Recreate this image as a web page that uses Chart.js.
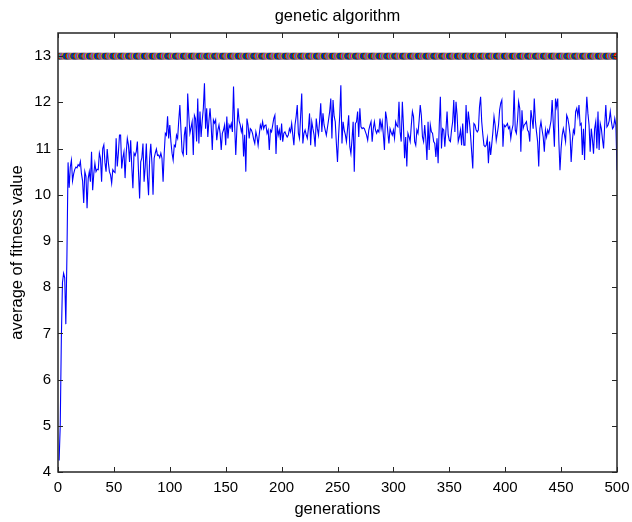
<!DOCTYPE html>
<html>
<head>
<meta charset="utf-8">
<script src="https://cdn.jsdelivr.net/npm/chart.js@4.4.1/dist/chart.umd.min.js"></script>
<style>
  html, body { margin: 0; padding: 0; background: #fff; }
  #wrap { width: 632px; height: 522px; }
</style>
</head>
<body>
<div id="wrap"><canvas id="c" width="632" height="522"></canvas></div>
<script>
// ---- data ----
const chartTitle = 'genetic algorithm';
const xAxisTitle = 'generations';
const yAxisTitle = 'average of fitness value';
const xTickValues = [0, 50, 100, 150, 200, 250, 300, 350, 400, 450, 500];
const yTickValues = [4, 5, 6, 7, 8, 9, 10, 11, 12, 13];
const bestFitness = 13;   // constant best fitness shown by the marker band
const markerColors = ['#0000ff', '#008000', '#ff0000', '#00bfbf', '#bf00bf', '#bfbf00', '#404040'];
const avgFitness = [
  4.25, 5.0, 6.9, 8.1, 8.3, 8.2, 7.2, 8.7, 10.7, 10.15,
  10.6, 10.75, 10.3, 10.45, 10.55, 10.6, 10.58, 10.65, 10.62, 10.72,
  10.45, 10.3, 9.82, 10.5, 10.4, 9.71, 10.35, 10.5, 10.28, 10.93,
  10.1, 10.45, 10.68, 10.5, 10.55, 10.54, 10.9, 10.79, 10.28, 11.0,
  11.08, 10.7, 10.5, 10.99, 10.7, 10.5, 10.43, 10.25, 10.54, 10.5,
  10.48, 11.22, 10.61, 10.9, 11.29, 11.29, 10.57, 10.8, 10.93, 10.36,
  10.9, 11.22, 11.08, 10.71, 11.18, 10.6, 10.14, 10.9, 10.85, 10.93,
  11.15, 10.5, 9.92, 10.71, 10.8, 11.11, 10.28, 10.6, 11.11, 10.4,
  9.99, 10.79, 11.1, 10.7, 10.0, 10.79, 10.9, 10.99, 10.85, 10.86,
  10.8, 10.9, 10.79, 10.28, 10.9, 11.33, 11.29, 11.7, 11.22, 11.51,
  11.15, 10.9, 10.75, 11.07, 11.04, 11.29, 11.22, 11.6, 11.94, 11.40,
  10.93, 10.86, 11.29, 11.47, 10.86, 12.19, 11.72, 11.33, 11.45, 11.58,
  10.86, 11.72, 11.65, 11.15, 12.08, 11.11, 11.80, 11.25, 11.6, 11.87,
  12.41, 11.43, 11.87, 11.25, 11.6, 11.87, 11.51, 10.97, 11.62, 11.55,
  11.62, 11.18, 11.4, 11.51, 11.33, 10.97, 11.33, 11.4, 11.51, 11.07,
  11.69, 11.22, 11.51, 11.45, 11.54, 11.36, 12.34, 11.5, 10.86, 11.43,
  11.87, 11.6, 11.51, 11.36, 11.47, 10.83, 11.3, 10.50, 11.65, 11.51,
  11.22, 11.43, 11.40, 11.33, 11.2, 11.11, 11.36, 11.25, 11.07, 11.3,
  11.51, 11.43, 11.58, 11.43, 11.5, 11.51, 11.33, 11.40, 10.97, 11.40,
  11.36, 11.5, 11.65, 11.72, 10.88, 11.51, 11.29, 11.4, 11.18, 11.54,
  11.15, 11.33, 11.36, 11.3, 11.25, 11.29, 11.43, 11.36, 11.54, 11.3,
  11.07, 11.51, 11.69, 11.94, 11.33, 11.22, 11.7, 12.19, 11.11, 11.33,
  11.40, 11.3, 11.22, 11.43, 11.76, 11.07, 11.58, 11.43, 11.3, 11.04,
  11.65, 11.43, 11.29, 11.6, 11.98, 11.36, 11.76, 11.51, 11.40, 11.29,
  11.45, 11.62, 11.80, 12.08, 11.22, 12.05, 11.7, 11.58, 11.11, 10.71,
  11.29, 11.72, 12.37, 11.11, 11.58, 11.40, 11.3, 11.15, 11.43, 11.72,
  11.04, 10.89, 11.2, 11.58, 10.50, 11.54, 11.58, 11.80, 11.25, 11.87,
  11.47, 11.43, 11.45, 11.43, 11.36, 11.29, 11.18, 11.40, 11.5, 11.58,
  11.15, 11.43, 11.58, 11.40, 11.33, 11.4, 11.36, 11.65, 11.43, 11.58,
  11.3, 10.97, 11.80, 11.65, 11.36, 11.11, 11.43, 11.35, 11.29, 11.40,
  11.22, 11.58, 11.5, 11.47, 12.01, 11.36, 11.15, 12.01, 11.5, 10.79,
  11.25, 10.61, 11.33, 11.25, 11.15, 11.5, 11.80, 11.69, 11.15, 11.07,
  11.40, 11.33, 11.6, 11.94, 11.72, 11.25, 11.15, 11.51, 11.2, 10.75,
  11.58, 10.97, 11.51, 11.36, 11.33, 11.15, 11.11, 10.82, 11.22, 10.68,
  11.5, 12.12, 11.00, 11.43, 11.40, 11.04, 11.4, 11.80, 11.3, 11.18,
  11.15, 11.4, 11.58, 12.05, 11.36, 12.01, 11.72, 11.15, 11.25, 11.40,
  11.07, 11.54, 11.07, 11.07, 11.94, 11.33, 11.80, 11.58, 11.29, 10.93,
  10.57, 11.54, 11.51, 11.4, 11.36, 11.40, 11.90, 12.12, 11.58, 11.3,
  11.07, 11.04, 11.07, 11.22, 10.68, 11.15, 10.86, 11.1, 11.36, 11.69,
  11.51, 11.18, 11.33, 11.5, 11.83, 11.98, 12.05, 11.04, 11.51, 11.47,
  11.5, 11.54, 11.43, 11.47, 11.22, 11.4, 11.51, 12.26, 11.40, 11.33,
  11.6, 12.01, 11.87, 10.93, 11.83, 11.43, 11.51, 11.54, 11.58, 11.40,
  11.36, 11.15, 11.83, 11.65, 11.43, 12.08, 11.6, 11.36, 11.15, 10.61,
  11.43, 11.58, 11.4, 11.25, 10.93, 11.40, 11.25, 11.40, 11.33, 11.47,
  11.6, 12.05, 11.54, 11.04, 12.08, 11.9, 12.08, 11.15, 10.53, 11.00,
  11.29, 11.43, 11.3, 11.15, 11.72, 11.65, 11.51, 11.3, 10.71, 11.15,
  11.40, 11.33, 11.80, 11.87, 11.7, 11.94, 11.51, 11.54, 10.86, 11.43,
  10.75, 11.6, 12.12, 11.76, 11.51, 10.93, 11.43, 11.2, 10.89, 11.43,
  11.58, 11.00, 11.80, 10.97, 11.54, 11.43, 11.2, 11.00, 11.51, 11.94,
  11.47, 11.51, 11.6, 11.80, 11.58, 11.43, 11.47, 11.65, 11.5, 10.53
];

// ---- build tables for the library ----
const avgPoints = avgFitness.map((v, i) => ({ x: i + 1, y: v }));
const bestPoints = avgFitness.map((v, i) => ({ x: i + 1, y: bestFitness }));
const bestColors = bestPoints.map((p, i) => markerColors[i % markerColors.length]);

const FONT = 'Liberation Sans, Arial, Helvetica, sans-serif';
const TICK_SIZE = 15;
const LABEL_SIZE = 16.5;

const matlabFrame = {
  id: 'matlabFrame',
  afterDatasetsDraw(chart) {
    const { ctx, chartArea: a, scales } = chart;
    const xs = scales.x, ys = scales.y;
    const tick = 5;
    ctx.save();
    ctx.strokeStyle = '#262626';
    ctx.lineWidth = 1;
    ctx.beginPath();
    xTickValues.forEach(v => {
      const px = Math.round(xs.getPixelForValue(v)) + 0.5;
      ctx.moveTo(px, a.bottom); ctx.lineTo(px, a.bottom - tick);
      ctx.moveTo(px, a.top); ctx.lineTo(px, a.top + tick);
    });
    yTickValues.forEach(v => {
      const py = Math.round(ys.getPixelForValue(v)) + 0.5;
      ctx.moveTo(a.left, py); ctx.lineTo(a.left + tick, py);
      ctx.moveTo(a.right, py); ctx.lineTo(a.right - tick, py);
    });
    ctx.stroke();
    ctx.lineWidth = 1.5;
    ctx.strokeRect(a.left, a.top, a.right - a.left, a.bottom - a.top);
    // title centred over the plot area
    ctx.fillStyle = '#000';
    ctx.font = LABEL_SIZE + 'px ' + FONT;
    ctx.textAlign = 'center';
    ctx.textBaseline = 'middle';
    ctx.fillText(chartTitle, (a.left + a.right) / 2, 16);
    ctx.restore();
  }
};

new Chart(document.getElementById('c'), {
  type: 'line',
  data: {
    datasets: [
      {
        label: 'best',
        data: bestPoints,
        showLine: false,
        pointStyle: 'circle',
        pointRadius: 2.8,
        pointBorderWidth: 1.2,
        pointBorderColor: bestColors,
        pointBackgroundColor: 'rgba(0,0,0,0)',
        pointHoverRadius: 2.8
      },
      {
        label: 'average',
        data: avgPoints,
        borderColor: '#0000ff',
        borderWidth: 1.1,
        pointRadius: 0,
        tension: 0,
        fill: false
      }
    ]
  },
  plugins: [matlabFrame],
  options: {
    responsive: false,
    animation: false,
    devicePixelRatio: 1,
    layout: { padding: { left: 0, right: 15, top: 33, bottom: 0 } },
    plugins: { legend: { display: false }, tooltip: { enabled: false }, title: { display: false } },
    scales: {
      x: {
        type: 'linear',
        min: 0, max: 500,
        afterBuildTicks: s => { s.ticks = xTickValues.map(v => ({ value: v })); },
        afterFit: s => { s.height = 50; s.paddingLeft = 0; s.paddingRight = 0; },
        grid: { display: false, drawTicks: false },
        border: { display: false },
        ticks: { color: '#000', font: { family: FONT, size: TICK_SIZE }, padding: 7, maxRotation: 0, autoSkip: false },
        title: { display: true, text: xAxisTitle, color: '#000', font: { family: FONT, size: LABEL_SIZE }, padding: { top: 0, bottom: 3 } }
      },
      y: {
        type: 'linear',
        min: 4, max: 13.5,
        afterBuildTicks: s => { s.ticks = yTickValues.map(v => ({ value: v })); },
        afterFit: s => { s.width = 58; s.paddingTop = 0; s.paddingBottom = 0; },
        grid: { display: false, drawTicks: false },
        border: { display: false },
        ticks: { color: '#000', font: { family: FONT, size: TICK_SIZE }, padding: 7, autoSkip: false },
        title: { display: true, text: yAxisTitle, color: '#000', font: { family: FONT, size: LABEL_SIZE }, padding: { top: 8, bottom: 0 } }
      }
    }
  }
});
</script>
</body>
</html>
